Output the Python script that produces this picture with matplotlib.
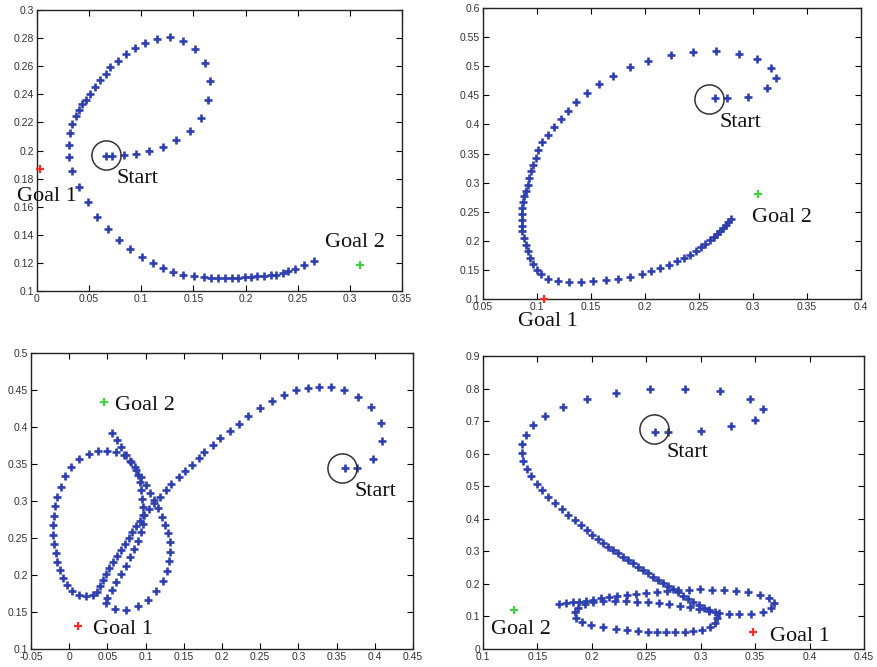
import numpy as np
import matplotlib.pyplot as plt
from matplotlib.ticker import MultipleLocator, FuncFormatter

# ---- panel 1 (top left) ----
p1_x = [0.0658, 0.0719, 0.0831, 0.0949, 0.1077, 0.1208, 0.1336, 0.1470, 0.1569, 0.1643,
        0.1656, 0.1608, 0.1518, 0.1400, 0.1279, 0.1151, 0.1039, 0.0943, 0.0857, 0.0777,
        0.0703, 0.0658, 0.0601, 0.0556, 0.0511, 0.0470, 0.0435, 0.0403, 0.0371, 0.0332,
        0.0313, 0.0304, 0.0304, 0.0336, 0.0403, 0.0489, 0.0575, 0.0681, 0.0786, 0.0895,
        0.1004, 0.1109, 0.1211, 0.1307, 0.1403, 0.1502, 0.1601, 0.1668, 0.1736, 0.1806,
        0.1870, 0.1931, 0.1998, 0.2052, 0.2110, 0.2173, 0.2241, 0.2295, 0.2362, 0.2404,
        0.2474, 0.2563, 0.2653]
p1_y = [0.1963, 0.1963, 0.1968, 0.1977, 0.1996, 0.2025, 0.2072, 0.2139, 0.2234, 0.2359,
        0.2495, 0.2625, 0.2722, 0.2782, 0.2805, 0.2796, 0.2768, 0.2727, 0.2684, 0.2639,
        0.2597, 0.2545, 0.2499, 0.2450, 0.2404, 0.2359, 0.2331, 0.2288, 0.2246, 0.2186,
        0.2122, 0.2042, 0.1956, 0.1852, 0.1743, 0.1631, 0.1529, 0.1439, 0.1363, 0.1297,
        0.1242, 0.1199, 0.1166, 0.1135, 0.1116, 0.1104, 0.1097, 0.1095, 0.1090, 0.1090,
        0.1093, 0.1095, 0.1097, 0.1102, 0.1104, 0.1109, 0.1112, 0.1116, 0.1130, 0.1140,
        0.1159, 0.1183, 0.1214]
p1_goal1 = (0.0026, 0.1866)
p1_goal2 = (0.3100, 0.1185)
p1_start = (0.0658, 0.1966)

# ---- panel 2 (top right) ----
p2_x = [0.2644, 0.2758, 0.2956, 0.3129, 0.3209, 0.3163, 0.3039, 0.2866, 0.2662, 0.2449,
        0.2239, 0.2032, 0.1862, 0.1702, 0.1578,
        0.1461, 0.1362, 0.1285, 0.1223, 0.1161, 0.1099, 0.1050, 0.1013, 0.0988, 0.0966,
        0.0945, 0.0926, 0.0914, 0.0895, 0.0883, 0.0874, 0.0865, 0.0858, 0.0858, 0.0858,
        0.0865, 0.0877, 0.0895, 0.0914, 0.0936, 0.0963, 0.0997, 0.1038,
        0.1105, 0.1192, 0.1297, 0.1408, 0.1522, 0.1640, 0.1754, 0.1862, 0.1970, 0.2057,
        0.2140, 0.2227, 0.2301, 0.2363, 0.2418, 0.2474, 0.2517, 0.2557, 0.2598, 0.2635,
        0.2665, 0.2696, 0.2721, 0.2746, 0.2771, 0.2795]
p2_y = [0.4448, 0.4448, 0.4477, 0.4620, 0.4792, 0.4975, 0.5124, 0.5215, 0.5255, 0.5250,
        0.5187, 0.5095, 0.4981, 0.4837, 0.4688,
        0.4540, 0.4379, 0.4225, 0.4093, 0.3950, 0.3824, 0.3692, 0.3566, 0.3423, 0.3308,
        0.3194, 0.3079, 0.2964, 0.2850, 0.2764, 0.2661, 0.2564, 0.2466, 0.2363, 0.2260,
        0.2163, 0.2048, 0.1934, 0.1819, 0.1704, 0.1607, 0.1504, 0.1430,
        0.1344, 0.1304, 0.1286, 0.1286, 0.1304, 0.1332, 0.1344, 0.1378, 0.1430, 0.1475,
        0.1533, 0.1590, 0.1647, 0.1704, 0.1762, 0.1830, 0.1893, 0.1951, 0.2008, 0.2060,
        0.2117, 0.2174, 0.2220, 0.2277, 0.2323, 0.2375]
p2_goal1 = (0.1065, 0.1000)
p2_goal2 = (0.3042, 0.2804)
p2_start = (0.2591, 0.4436)

# ---- panel 3 (bottom left) ----
p3_x = [0.3616, 0.3769, 0.3979, 0.4097, 0.4075, 0.3944, 0.3782, 0.3594, 0.3433, 0.3275,
        0.3122, 0.2974, 0.2808, 0.2650, 0.2493, 0.2340, 0.2218, 0.2100, 0.1977, 0.1877,
        0.1768, 0.1693, 0.1606, 0.1510, 0.1431, 0.1339, 0.1265, 0.1182, 0.1112, 0.1047,
        0.0981, 0.0929, 0.0876, 0.0828, 0.0780, 0.0728, 0.0675, 0.0623, 0.0575, 0.0527,
        0.0483, 0.0439, 0.0400, 0.0361,
        0.0309, 0.0221, 0.0129, 0.0037, -0.0033, -0.0085, -0.0125, -0.0155, -0.0177, -0.0195,
        -0.0208, -0.0212, -0.0203, -0.0186, -0.0155, -0.0111, -0.0050, 0.0024, 0.0133, 0.0256,
        0.0383, 0.0501, 0.0614, 0.0719, 0.0798, 0.0855, 0.0895, 0.0921, 0.0938, 0.0951,
        0.0965, 0.0969, 0.0960, 0.0938, 0.0898, 0.0850, 0.0798, 0.0741, 0.0680, 0.0618,
        0.0557, 0.0500,
        0.0484, 0.0602, 0.0746, 0.0899, 0.1026, 0.1130, 0.1222, 0.1274, 0.1309, 0.1322,
        0.1313, 0.1291, 0.1256, 0.1213, 0.1165, 0.1112, 0.1060, 0.1003, 0.0942, 0.0876,
        0.0811, 0.0745, 0.0684, 0.0623, 0.0566]
p3_y = [0.3444, 0.3444, 0.3562, 0.3805, 0.4058, 0.4270, 0.4405, 0.4504, 0.4536, 0.4540,
        0.4531, 0.4495, 0.4437, 0.4351, 0.4256, 0.4148, 0.4040, 0.3940, 0.3850, 0.3760,
        0.3661, 0.3580, 0.3490, 0.3399, 0.3318, 0.3232, 0.3151, 0.3048, 0.2971, 0.2894,
        0.2813, 0.2736, 0.2660, 0.2579, 0.2497, 0.2416, 0.2335, 0.2254, 0.2173, 0.2091,
        0.2010, 0.1929, 0.1848, 0.1767,
        0.1731, 0.1722, 0.1731, 0.1785, 0.1866, 0.1965, 0.2069, 0.2182, 0.2294, 0.2416,
        0.2542, 0.2669, 0.2799, 0.2926, 0.3052, 0.3183, 0.3332, 0.3453, 0.3562, 0.3638,
        0.3679, 0.3679, 0.3656, 0.3616, 0.3544, 0.3453, 0.3354, 0.3250, 0.3142, 0.3029,
        0.2917, 0.2804, 0.2691, 0.2579, 0.2466, 0.2353, 0.2240, 0.2128, 0.2015, 0.1902,
        0.1794, 0.1686,
        0.1618, 0.1541, 0.1523, 0.1586, 0.1663, 0.1789, 0.1925, 0.2060, 0.2191, 0.2317,
        0.2443, 0.2565, 0.2678, 0.2790, 0.2903, 0.3007, 0.3111, 0.3214, 0.3318, 0.3422,
        0.3526, 0.3625, 0.3724, 0.3823, 0.3918]
p3_goal1 = (0.0111, 0.1316)
p3_goal2 = (0.0458, 0.4337)
p3_start = (0.3572, 0.3444)

# ---- panel 4 (bottom right) ----
p4_x = [0.2583, 0.2699, 0.3006, 0.3281, 0.3496, 0.3572, 0.3450, 0.3177, 0.2853, 0.2531,
        0.2225, 0.1958, 0.1738, 0.1573, 0.1462, 0.1392, 0.1361, 0.1355, 0.1371, 0.1401,
        0.1441, 0.1493, 0.1545, 0.1600, 0.1661, 0.1723, 0.1784, 0.1845, 0.1900, 0.1952,
        0.2004, 0.2059, 0.2105, 0.2151, 0.2197, 0.2243, 0.2289, 0.2335, 0.2381, 0.2427,
        0.2473, 0.2519, 0.2565, 0.2611, 0.2657, 0.2703, 0.2748, 0.2794, 0.2840, 0.2886,
        0.2932, 0.2981, 0.3030, 0.3079, 0.3128,
        0.3153, 0.3128, 0.3082, 0.3012, 0.2932, 0.2853, 0.2767, 0.2684, 0.2601, 0.2516,
        0.2424, 0.2326, 0.2219, 0.2105, 0.1995, 0.1909, 0.1854, 0.1842, 0.1873, 0.1934,
        0.2010, 0.2102, 0.2210, 0.2317, 0.2418, 0.2516, 0.2614, 0.2712, 0.2807, 0.2899,
        0.2984, 0.3073, 0.3165, 0.3257, 0.3355, 0.3465, 0.3572, 0.3649, 0.3673, 0.3627,
        0.3542, 0.3434, 0.3327, 0.3214, 0.3104, 0.2996, 0.2892, 0.2791, 0.2693, 0.2595,
        0.2500, 0.2409, 0.2320, 0.2234, 0.2154, 0.2081, 0.2010, 0.1946, 0.1885, 0.1824,
        0.1762, 0.1701]
p4_y = [0.6668, 0.6668, 0.6709, 0.6852, 0.7046, 0.7384, 0.7691, 0.7916, 0.7998, 0.7977,
        0.7865, 0.7670, 0.7435, 0.7169, 0.6873, 0.6566, 0.6290, 0.6024, 0.5778, 0.5543,
        0.5308, 0.5083, 0.4878, 0.4674, 0.4469, 0.4285, 0.4111, 0.3958, 0.3804, 0.3651,
        0.3498, 0.3365, 0.3242, 0.3140, 0.3037, 0.2935, 0.2833, 0.2731, 0.2628, 0.2526,
        0.2424, 0.2322, 0.2219, 0.2117, 0.2015, 0.1933, 0.1841, 0.1739, 0.1636, 0.1534,
        0.1442, 0.1350, 0.1268, 0.1197, 0.1125,
        0.0961, 0.0798, 0.0675, 0.0593, 0.0552, 0.0532, 0.0532, 0.0532, 0.0532, 0.0532,
        0.0542, 0.0573, 0.0614, 0.0665, 0.0726, 0.0818, 0.0961, 0.1125, 0.1268, 0.1370,
        0.1432, 0.1462, 0.1473, 0.1462, 0.1452, 0.1432, 0.1401, 0.1370, 0.1330, 0.1278,
        0.1217, 0.1156, 0.1115, 0.1084, 0.1064, 0.1074, 0.1125, 0.1248, 0.1401, 0.1555,
        0.1667, 0.1749, 0.1780, 0.1800, 0.1820, 0.1831, 0.1820, 0.1800, 0.1780, 0.1749,
        0.1728, 0.1698, 0.1667, 0.1636, 0.1595, 0.1555, 0.1514, 0.1483, 0.1452, 0.1432,
        0.1411, 0.1391]
p4_goal1 = (0.3480, 0.0511)
p4_goal2 = (0.1285, 0.1186)
p4_start = (0.2571, 0.6770)

BLUE = '#2e3fae'
RED = '#ff2b2b'
GREEN = '#3fcf3f'


def fmt(v, pos):
    return '%g' % round(v, 4)


def draw(ax, x, y, g1, g2, st, xlim, ylim, xstep, ystep):
    ax.plot(x, y, ls='none', marker='+', ms=6, mew=1.9, color=BLUE, zorder=3)
    ax.plot(*g1, ls='none', marker='+', ms=6, mew=1.6, color=RED, clip_on=False, zorder=4)
    ax.plot(*g2, ls='none', marker='+', ms=6, mew=1.6, color=GREEN, clip_on=False, zorder=4)
    ax.plot(*st, ls='none', marker='o', ms=21, mfc='none', mec='#333333', mew=1.1, zorder=4)
    ax.set_xlim(*xlim)
    ax.set_ylim(*ylim)
    ax.xaxis.set_major_locator(MultipleLocator(xstep))
    ax.yaxis.set_major_locator(MultipleLocator(ystep))
    ax.xaxis.set_major_formatter(FuncFormatter(fmt))
    ax.yaxis.set_major_formatter(FuncFormatter(fmt))
    ax.tick_params(direction='in', top=True, right=True, length=4, width=0.8,
                   labelsize=7.5, labelcolor='#333333', pad=2)
    for lab in ax.get_xticklabels() + ax.get_yticklabels():
        lab.set_family('Liberation Sans')
    for s in ax.spines.values():
        s.set_linewidth(1.0)
        s.set_color('#222222')


def label(ax, x, y, s):
    ax.text(x, y, s, family='Liberation Serif', fontsize=16, ha='left', va='center',
            color='#111111', clip_on=False, zorder=5)


fig = plt.figure(figsize=(8.78, 6.67), dpi=100)
ax1 = fig.add_axes([0.0421, 0.5637, 0.4157, 0.4213])
ax2 = fig.add_axes([0.5501, 0.5517, 0.4305, 0.4363])
ax3 = fig.add_axes([0.0353, 0.0270, 0.4351, 0.4438])
ax4 = fig.add_axes([0.5501, 0.0270, 0.4339, 0.4393])

draw(ax1, p1_x, p1_y, p1_goal1, p1_goal2, p1_start, (0, 0.35), (0.1, 0.3), 0.05, 0.02)
label(ax1, 0.0767, 0.1802, 'Start')
label(ax1, -0.0192, 0.1671, 'Goal 1')
label(ax1, 0.2765, 0.1344, 'Goal 2')

draw(ax2, p2_x, p2_y, p2_goal1, p2_goal2, p2_start, (0.05, 0.4), (0.1, 0.6), 0.05, 0.05)
label(ax2, 0.2693, 0.4036, 'Start')
label(ax2, 0.2987, 0.2392, 'Goal 2')
label(ax2, 0.0824, 0.0616, 'Goal 1')

draw(ax3, p3_x, p3_y, p3_goal1, p3_goal2, p3_start, (-0.05, 0.45), (0.1, 0.5), 0.05, 0.05)
label(ax3, 0.3735, 0.3130, 'Start')
label(ax3, 0.0600, 0.4290, 'Goal 2')
label(ax3, 0.0310, 0.1270, 'Goal 1')

draw(ax4, p4_x, p4_y, p4_goal1, p4_goal2, p4_start, (0.1, 0.45), (0, 0.9), 0.05, 0.1)
label(ax4, 0.2684, 0.6050, 'Start')
label(ax4, 0.1070, 0.0610, 'Goal 2')
label(ax4, 0.3633, 0.0380, 'Goal 1')

fig.savefig('out.png', dpi=100)
